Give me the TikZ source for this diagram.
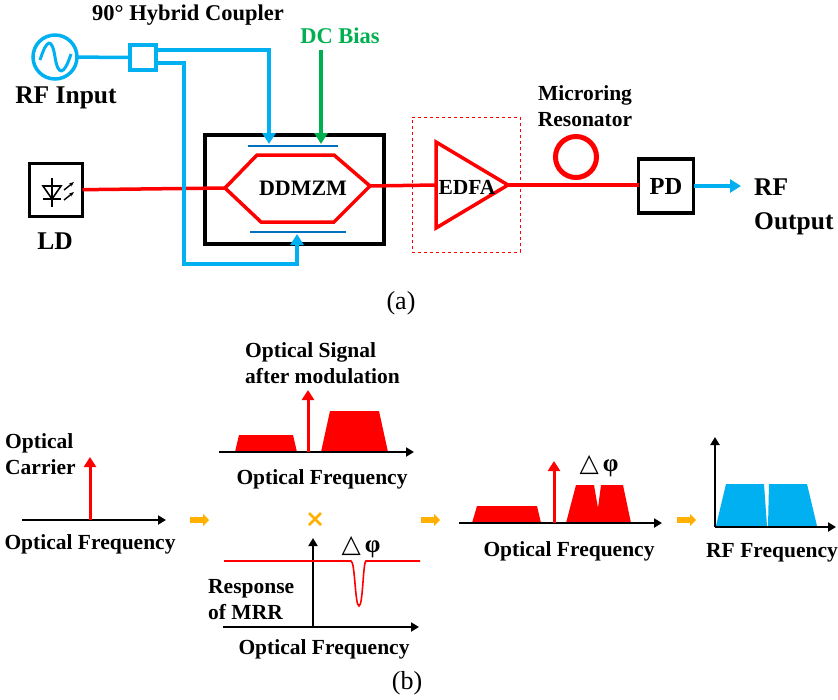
\documentclass[tikz,border=0pt]{standalone}
\usepackage{fontspec}
\setmainfont{Liberation Serif}
\newfontfamily\symfont{DejaVu Sans}
\usetikzlibrary{arrows.meta, positioning}
\definecolor{rfblue}{HTML}{00B0F0}
\definecolor{elblue}{HTML}{0070C0}
\definecolor{dcgreen}{HTML}{00B050}
\definecolor{stepamber}{HTML}{FFB000}
\tikzstyle{label} = [font=\fontsize{21.5}{26}\selectfont\bfseries, align=left, inner sep=0pt]
\tikzstyle{biglabel} = [font=\fontsize{25.5}{34}\selectfont\bfseries, align=left, inner sep=0pt]
\tikzstyle{caption} = [font=\fontsize{26}{30}\selectfont, inner sep=0pt]
\tikzstyle{blackbox} = [rectangle, draw=black, line width=3.5pt, outer sep=0pt, font=\fontsize{24.5}{28}\selectfont\bfseries, inner sep=0pt]
\tikzstyle{rfline} = [draw=rfblue, line width=3.5pt]
\tikzstyle{rfarrow} = [rfline, -{Triangle[length=11pt,width=13pt]}]
\tikzstyle{optline} = [draw=red, line width=3.5pt]
\tikzstyle{axis} = [draw=black, line width=2pt, -{Triangle[length=8pt,width=9pt]}]
\tikzstyle{carrier} = [draw=red, line width=3pt, -{Triangle[length=10pt,width=12pt]}]
\tikzstyle{band} = [fill=red]
\tikzstyle{stepmark} = [draw=stepamber, line width=6pt, -{Triangle[length=6pt,width=12pt]}]
\begin{document}
\begin{tikzpicture}[x=1pt, y=-1pt]
    \useasboundingbox (0,0) rectangle (838,699);
    % Upper setup
    \node (source) [circle, draw=rfblue, line width=3.5pt, minimum size=44pt, outer sep=0pt, inner sep=0pt] at (55,57) {};
    \draw [draw=rfblue, line width=3pt] (40,60) .. controls (47,38) and (52,38) .. (55,57) .. controls (58,76) and (64,76) .. (71,54);
    \node (coupler) [rectangle, draw=rfblue, line width=3.5pt, minimum width=26pt, minimum height=25pt, outer sep=0pt] at (143,57.5) {};
    \node (ld) [blackbox, minimum size=53pt] at (56,190) {};
    \node (mzm) [blackbox, minimum width=179pt, minimum height=109pt] at (294.5,189.5) {};
    \node (pd) [blackbox, minimum width=55pt, minimum height=54pt] at (666,186) {PD};
    \node (ring) [circle, draw=red, line width=5pt, minimum size=41pt, outer sep=0pt, inner sep=0pt] at (576,157) {};

    % Laser symbol
    \draw [line width=1.6pt] (52,178) -- (52,207);
    \draw [line width=1.6pt] (43,199) -- (61,199);
    \draw [line width=1.6pt] (43,186) -- (61,186) -- (52,199) -- cycle;
    \draw [line width=1.4pt, -{Stealth[length=5pt]}] (64,200) -- (74,192);
    \draw [line width=1.4pt, -{Stealth[length=5pt]}] (64,190) -- (74,182);

    % Modulator arms
    \coordinate (hexin) at (225,188);
    \coordinate (hexout) at (370,186);
    \draw [optline, line join=miter] (hexin) -- (257,155) -- (334,155) -- (hexout) -- (334,222) -- (261,222) -- cycle;
    \coordinate (eltopa) at (248,146);
    \coordinate (eltopb) at (338,146);
    \coordinate (elbota) at (250,232);
    \coordinate (elbotb) at (346,232);
    \draw [elblue, line width=1.5pt] (eltopa) -- (eltopb);
    \draw [elblue, line width=1.5pt] (elbota) -- (elbotb);
    \node (ddmzm) [label, font=\fontsize{22}{26}\selectfont\bfseries] at (303,188) {DDMZM};

    % Amplifier
    \node (edfabox) [rectangle, draw=red, dashed, line width=0.8pt, minimum width=108pt, minimum height=135pt] at (466,184.5) {};
    \coordinate (edfain) at (436,185);
    \coordinate (edfaout) at (508,185);
    \draw [optline, line join=miter] (436,142) -- (edfaout) -- (436,228) -- cycle;
    \node (edfa) [label] at (467,187) {EDFA};

    % Connections
    \draw [optline] (ld) -- (hexin);
    \draw [optline] (hexout) -- (edfain);
    \draw [optline] (edfaout) -- (pd.west |- edfaout);
    \draw [rfline] (source) -- (coupler);
    \coordinate (armup) at (269,144);
    \coordinate (armdown) at (297,234);
    \coordinate (dcstart) at (321,50);
    \coordinate (dcend) at (321,144);
    \coordinate (rfout) at (741,186);
    \draw [rfarrow] (coupler.east |- 0,50) -| (armup);
    \draw [rfarrow] (coupler.east |- 0,63) -- (184,63) -- (184,264) -- (297,264) -- (armdown);
    \draw [draw=dcgreen, line width=3.5pt, -{Triangle[length=11pt,width=13pt]}] (dcstart) -- (dcend);
    \draw [rfarrow] (pd) -- (rfout);

    % Upper labels
    \node (hybridlab) [label, font=\fontsize{22.5}{26}\selectfont\bfseries] at (188,15) {90° Hybrid Coupler};
    \node (dclab) [label, font=\fontsize{22.5}{26}\selectfont\bfseries, text=dcgreen] at (340,36) {DC Bias};
    \node (rflab) [biglabel] at (66,98) {RF Input};
    \node (ldlab) [biglabel] at (55,241) {LD};
    \node (mrrlab) [label, align=center] at (585,106) {Microring\\Resonator};
    \node (outlab) [biglabel, anchor=west] at (754,207) {RF\\Output};
    \node (capa) [caption] at (401,303) {(a)};

    % Optical carrier
    \coordinate (axonea) at (22,520);
    \coordinate (axoneb) at (166,520);
    \coordinate (caronea) at (90,520);
    \coordinate (caroneb) at (90,457);
    \draw [axis] (axonea) -- (axoneb);
    \draw [carrier] (caronea) -- (caroneb);
    \node (carlab) [label, anchor=west] at (5,454) {Optical\\Carrier};
    \node (axonelab) [label] at (90,544) {Optical Frequency};

    % Modulated signal
    \fill [band] (235,452) -- (239,435) -- (293,435) -- (297,452) -- cycle;
    \fill [band] (321,452) -- (330,411) -- (379,411) -- (388,452) -- cycle;
    \coordinate (axtwoa) at (219,452);
    \coordinate (axtwob) at (414,452);
    \coordinate (cartwoa) at (308,452);
    \coordinate (cartwob) at (308,390);
    \draw [axis] (axtwoa) -- (axtwob);
    \draw [carrier] (cartwoa) -- (cartwob);
    \node (siglab) [label, anchor=west] at (245,363) {Optical Signal\\after modulation};
    \node (axtwolab) [label] at (322,479) {Optical Frequency};

    % Product sign
    \coordinate (crossa) at (309,513);
    \coordinate (crossb) at (321,525);
    \coordinate (crossc) at (321,513);
    \coordinate (crossd) at (309,525);
    \draw [stepamber, line width=2.8pt] (crossa) -- (crossb);
    \draw [stepamber, line width=2.8pt] (crossc) -- (crossd);

    % Resonator response
    \coordinate (axthreea) at (223,627);
    \coordinate (axthreeb) at (419,627);
    \coordinate (axthreey) at (313,538);
    \draw [axis] (axthreea) -- (axthreeb);
    \draw [axis] (313,627) -- (axthreey);
    \draw [draw=red, line width=1.6pt] (224,561) -- (351,561) .. controls (355,561) and (355,606) .. (359,606) .. controls (363,606) and (363,561) .. (366,561) -- (420,561);
    \node (dphione) [label, font=\fontsize{25}{26}\selectfont\bfseries] at (361,547) {{\symfont △}\,φ};
    \node (resplab) [label, anchor=west] at (208,600) {Response\\of MRR};
    \node (axthreelab) [label] at (324,649) {Optical Frequency};
    \node (capb) [caption] at (407,683) {(b)};

    % Filtered signal
    \fill [band] (472,523) -- (477,506) -- (537,506) -- (541,523) -- cycle;
    \fill [band] (566,523) -- (576,485) -- (594,485) -- (598,508) -- (601,485) -- (623,485) -- (631,523) -- cycle;
    \coordinate (axfoura) at (459,523);
    \coordinate (axfourb) at (662,523);
    \coordinate (carfoura) at (554,523);
    \coordinate (carfourb) at (554,461);
    \draw [axis] (axfoura) -- (axfourb);
    \draw [carrier] (carfoura) -- (carfourb);
    \node (dphitwo) [label, font=\fontsize{25}{26}\selectfont\bfseries] at (599,466) {{\symfont △}\,φ};
    \node (axfourlab) [label] at (569,551) {Optical Frequency};

    % RF spectrum
    \fill [rfblue] (716,526) -- (726,484) -- (764,484) -- (767,526) -- cycle;
    \fill [rfblue] (768,526) -- (769,484) -- (807,484) -- (817,526) -- cycle;
    \coordinate (axfivea) at (715,527);
    \coordinate (axfiveb) at (836,527);
    \coordinate (axfivey) at (715,437);
    \draw [axis] (axfivea) -- (axfiveb);
    \draw [axis] (axfivea) -- (axfivey);
    \node (axfivelab) [label] at (772,553) {RF Frequency};

    % Flow marks
    \coordinate (flowa) at (190,520);
    \coordinate (flowb) at (209,520);
    \coordinate (flowc) at (421,520);
    \coordinate (flowd) at (440,520);
    \coordinate (flowe) at (677,520);
    \coordinate (flowf) at (696,520);
    \draw [stepmark] (flowa) -- (flowb);
    \draw [stepmark] (flowc) -- (flowd);
    \draw [stepmark] (flowe) -- (flowf);
\end{tikzpicture}
\end{document}
